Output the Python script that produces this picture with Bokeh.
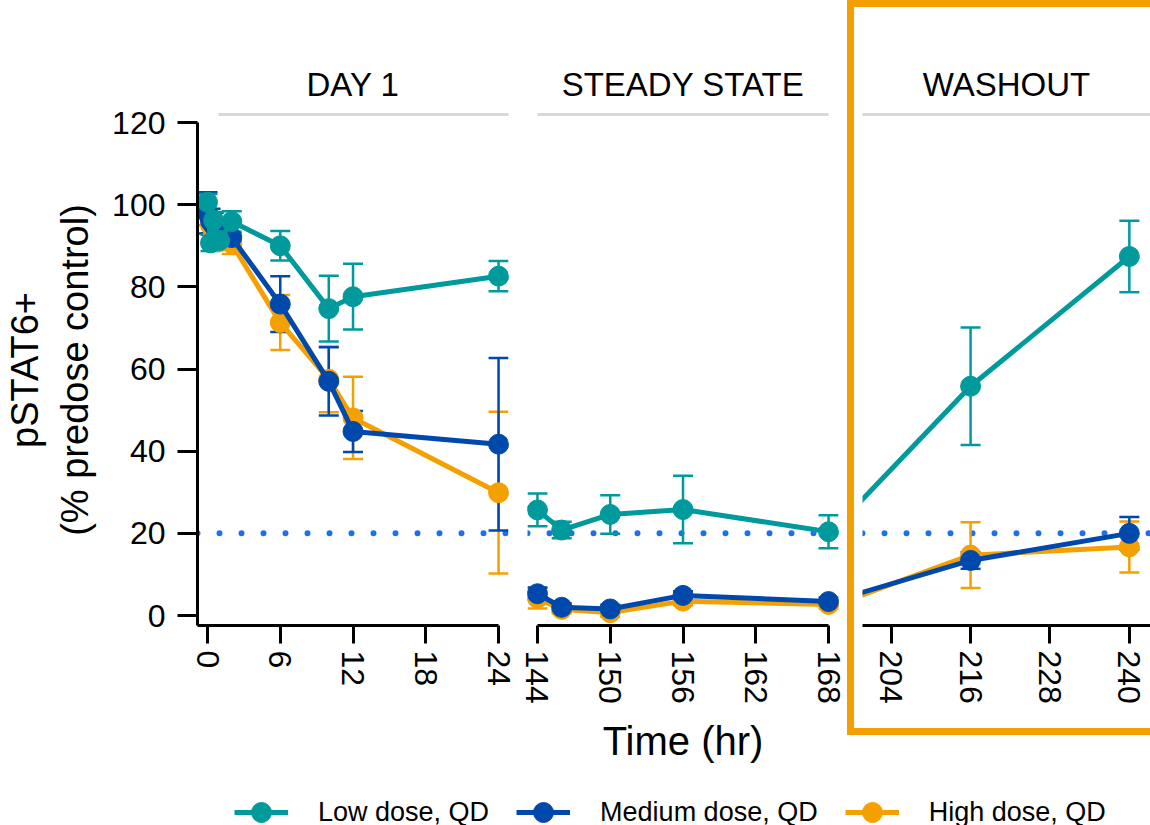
from bokeh.plotting import figure
from bokeh.models import (ColumnDataSource, Whisker, TeeHead, Span, Legend, LegendItem,
                          FixedTicker, LinearAxis, Range1d)
from bokeh.layouts import row, column
from bokeh.embed import file_html
from bokeh.resources import INLINE

# ---------------- data ----------------
TIME = [0, 0.25, 0.5, 1, 2, 6, 10, 12, 24, 144, 146, 150, 156, 168, 192, 216, 240]

LOW = [100.6, 90.7, 96.2, 91.3, 95.9, 90.0, 74.7, 77.6, 82.6, 25.7, 20.8, 24.6, 25.8, 20.4, 15.4, 55.8, 87.4]
LOW_ERR = [2.0, 2.0, 2.0, 2.0, 2.5, 3.6, 8.0, 8.0, 3.7, 4.0, 2.0, 4.7, 8.2, 4.0, 0.0, 14.3, 8.7]

MED = [98.0, 96.0, 95.0, 93.0, 92.0, 75.8, 57.0, 44.8, 41.7, 5.3, 2.0, 1.6, 4.9, 3.4, 2.0, 13.4, 20.0]
MED_ERR = [5.0, 3.0, 3.0, 3.0, 3.0, 6.8, 8.3, 5.0, 21.0, 1.5, 1.0, 1.0, 1.0, 1.0, 0.0, 2.0, 4.0]

HIGH = [98.0, 95.0, 93.0, 91.0, 90.5, 71.3, 57.5, 48.1, 29.9, 4.2, 1.5, 0.7, 3.5, 2.7, 0.5, 14.7, 16.7]
HIGH_ERR = [3.0, 2.0, 2.0, 2.0, 2.5, 6.7, 8.0, 10.0, 19.7, 2.5, 1.0, 1.0, 1.0, 1.0, 0.0, 8.0, 6.2]

SERIES_NAMES = ["Low dose, QD", "Medium dose, QD", "High dose, QD"]
PANEL_TITLES = ["DAY 1", "STEADY STATE", "WASHOUT"]
PANEL_TICKS = [[0, 6, 12, 18, 24], [144, 150, 156, 162, 168], [204, 216, 228, 240]]
Y_TICKS = [0, 20, 40, 60, 80, 100, 120]
THRESHOLD = 20
X_LABEL = "Time (hr)"
Y_LABEL = "pSTAT6+\n(% predose control)"

# ---------------- style ----------------
COLORS = {"Low dose, QD": "#009A9C", "Medium dose, QD": "#0049AC", "High dose, QD": "#F4A000"}
BOX_COLOR = "#F4A000"
DOT_COLOR = "#1F6FEB"
FONT = "Liberation Sans"
PANEL_XRANGE = [(-0.825, 24.82), (143.18, 168.82), (199.66, 243.2)]
Y_RANGE = (-2.43, 121.95)

series = [
    ("High dose, QD", HIGH, HIGH_ERR),
    ("Medium dose, QD", MED, MED_ERR),
    ("Low dose, QD", LOW, LOW_ERR),
]


def make_panel(idx, width, height, mbl, mbr, mbt, mbb, show_y, xlabel):
    p = figure(width=width, height=height,
               x_range=Range1d(*PANEL_XRANGE[idx]), y_range=Range1d(*Y_RANGE),
               output_backend="svg", toolbar_location=None,
               y_axis_location="left" if show_y else None,
               min_border_left=mbl, min_border_right=mbr,
               min_border_top=mbt, min_border_bottom=mbb)
    p.outline_line_color = None
    p.grid.visible = False
    p.background_fill_color = "white"
    p.border_fill_color = None

    # x axis
    xa = p.xaxis[0]
    xa.ticker = FixedTicker(ticks=PANEL_TICKS[idx])
    xa.major_label_orientation = "vertical"
    xa.major_label_text_font = FONT
    xa.major_label_text_font_size = "32px"
    xa.major_label_text_color = "black"
    xa.major_label_standoff = 7
    xa.major_tick_out = 18
    xa.major_tick_in = 0
    xa.minor_tick_line_color = None
    xa.major_tick_line_width = 3
    xa.axis_line_width = 3
    xa.axis_line_color = "black"
    xa.major_tick_line_color = "black"
    if idx == 0:
        xa.bounds = (PANEL_XRANGE[0][0], PANEL_TICKS[0][-1])
    elif idx == 1:
        xa.bounds = (PANEL_TICKS[1][0], PANEL_TICKS[1][-1])
    if xlabel:
        xa.axis_label = xlabel
        xa.axis_label_text_font = FONT
        xa.axis_label_text_font_size = "40px"
        xa.axis_label_text_font_style = "normal"
        xa.axis_label_text_color = "black"
        xa.axis_label_standoff = 12

    if show_y:
        ya = p.yaxis[0]
        ya.ticker = FixedTicker(ticks=Y_TICKS)
        ya.bounds = (Y_RANGE[0], Y_TICKS[-1])
        ya.major_label_text_font = FONT
        ya.major_label_text_font_size = "32px"
        ya.major_label_text_color = "black"
        ya.major_label_standoff = 12
        ya.major_tick_out = 20
        ya.major_tick_in = 0
        ya.minor_tick_line_color = None
        ya.major_tick_line_width = 3
        ya.axis_line_width = 3
        ya.axis_label = Y_LABEL
        ya.axis_label_text_font = FONT
        ya.axis_label_text_font_size = "38px"
        ya.axis_label_text_font_style = "normal"
        ya.axis_label_text_color = "black"
        ya.axis_label_standoff = 13

    # panel header as a top axis with a grey rule
    top = LinearAxis(ticker=FixedTicker(ticks=[]), axis_label=PANEL_TITLES[idx],
                     axis_line_color="#D9D9D9", axis_line_width=3,
                     major_tick_line_color=None, minor_tick_line_color=None,
                     major_label_text_font_size="0px",
                     axis_label_text_font=FONT, axis_label_text_font_size="33px",
                     axis_label_text_font_style="normal", axis_label_text_color="black",
                     axis_label_standoff=12)
    if idx == 0:
        top.bounds = (0.9, PANEL_XRANGE[0][1])
    elif idx == 1:
        top.bounds = (PANEL_TICKS[1][0], PANEL_TICKS[1][-1])
    p.add_layout(top, "above")

    p.add_layout(Span(location=THRESHOLD, dimension="width", line_color=DOT_COLOR,
                      line_width=6, line_dash="0 22", line_cap="round", level="underlay"))

    for name, vals, errs in series:
        c = COLORS[name]
        src = ColumnDataSource(dict(t=TIME, y=vals,
                                    lo=[v - e for v, e in zip(vals, errs)],
                                    hi=[v + e for v, e in zip(vals, errs)]))
        p.add_layout(Whisker(source=src, base="t", lower="lo", upper="hi",
                             line_color=c, line_width=2.5,
                             upper_head=TeeHead(size=20, line_color=c, line_width=2.5),
                             lower_head=TeeHead(size=20, line_color=c, line_width=2.5)))
        p.line("t", "y", source=src, line_color=c, line_width=5)
        p.scatter("t", "y", source=src, size=20, fill_color=c, line_color=c)
    return p


p1 = make_panel(0, 517, 770, 197, 9, 114, 145, True, None)
p2 = make_panel(1, 330, 770, 10, 9, 114, 145, False, X_LABEL)
p3 = make_panel(2, 296, 721, 8, 0, 107, 103, False, None)

wrap = column(p3, styles={"border-left": f"7px solid {BOX_COLOR}",
                          "border-top": f"7px solid {BOX_COLOR}",
                          "border-bottom": f"7px solid {BOX_COLOR}",
                          "align-self": "flex-start"})

# legend strip
lf = figure(width=1150, height=55, output_backend="svg", toolbar_location=None,
            x_axis_location=None, y_axis_location=None,
            x_range=Range1d(0, 1), y_range=Range1d(0, 1),
            min_border_left=0, min_border_right=0, min_border_top=0, min_border_bottom=0)
lf.outline_line_color = None
lf.grid.visible = False
items = []
nan = float("nan")
for name in SERIES_NAMES:
    c = COLORS[name]
    r1 = lf.line(x=[nan], y=[nan], line_color=c, line_width=5)
    r2 = lf.scatter(x=[nan], y=[nan], size=20, fill_color=c, line_color=c)
    items.append(LegendItem(label=name, renderers=[r1, r2]))
leg = Legend(items=items, orientation="horizontal", location=(234, -12),
             glyph_width=54, glyph_height=50, label_standoff=30, spacing=27,
             label_text_font=FONT, label_text_font_size="27px", label_text_color="black",
             border_line_color=None, background_fill_alpha=0, padding=0, margin=0)
lf.add_layout(leg, "center")

layout = column(row(p1, p2, wrap), lf)

open("out.html", "w").write(file_html(layout, INLINE, title="pSTAT6"))
